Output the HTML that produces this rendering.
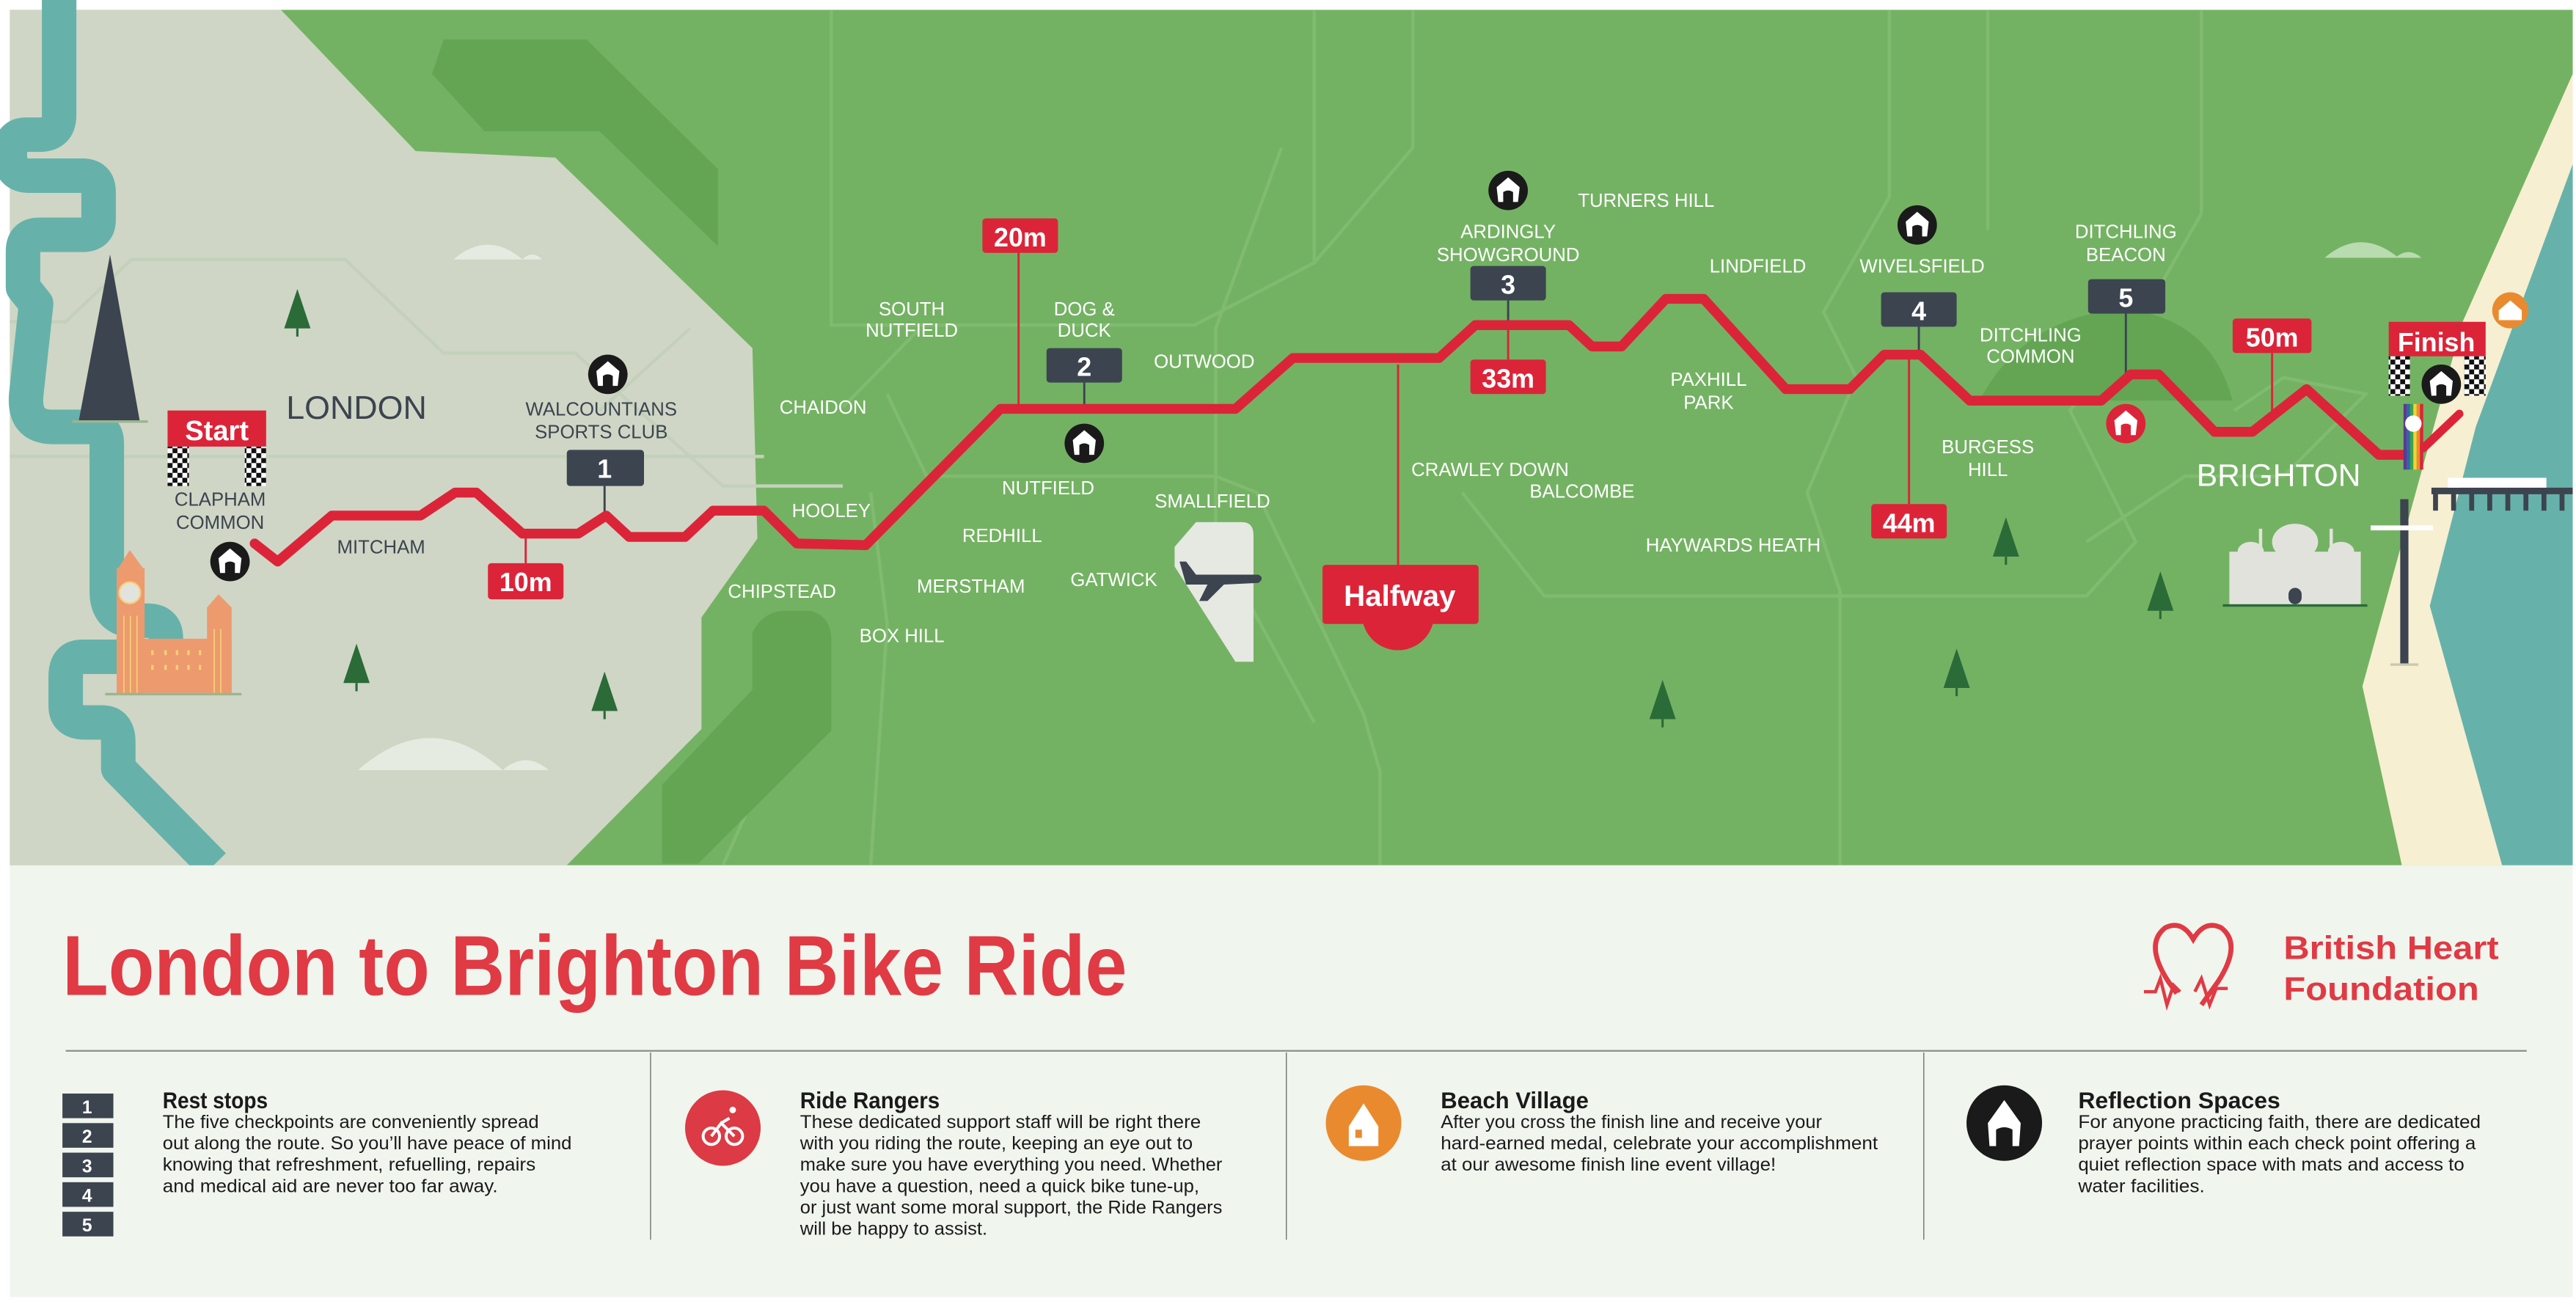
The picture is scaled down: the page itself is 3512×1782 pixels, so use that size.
<!DOCTYPE html>
<html><head><meta charset="utf-8"><style>
html,body{margin:0;padding:0;background:#fff;}
svg{display:block;}
</style></head><body>
<svg width="3512" height="1782" viewBox="0 0 1568 796" preserveAspectRatio="none" xmlns="http://www.w3.org/2000/svg" font-family="Liberation Sans, sans-serif">
<defs>
<g id="refl"><circle r="12" fill="#1a1a1a"/><path d="M-7,-2 L0,-8 L7,-2 L6,7 L3,7 L3,1 Q0,-1 -3,1 L-3,7 L-6,7 Z" fill="#fff"/></g>
<g id="reflr"><circle r="12" fill="#dc2439"/><path d="M-7,-2 L0,-8 L7,-2 L6,7 L3,7 L3,1 Q0,-1 -3,1 L-3,7 L-6,7 Z" fill="#fff"/></g>
<g id="tree"><polygon points="0,-18 8,6 -8,6" fill="#2a6b38"/><rect x="-0.7" y="6" width="1.4" height="5" fill="#2a6b38"/></g>
<pattern id="chk" width="6" height="6" patternUnits="userSpaceOnUse"><rect width="6" height="6" fill="#fff"/><rect width="3" height="3" fill="#111"/><rect x="3" y="3" width="3" height="3" fill="#111"/></pattern>
</defs>
<rect width="1568" height="796" fill="#fff"/>
<rect x="6" y="6" width="1560" height="521" fill="#74b263"/>
<g fill="none" stroke="#86bf76" stroke-width="2" opacity="0.7">
<path d="M506,6 V198 L560,198 H727 L800,160 V6"/>
<path d="M800,160 L860,90 L860,6"/>
<path d="M513,248 L560,200"/>
<path d="M540,240 L564,290 H740 L765,300 L830,435 L840,470 V527"/>
<path d="M780,90 L740,200 V330 L800,440"/>
<path d="M890,300 L940,363 H1270 L1300,330 L1260,250 L1300,200 L1340,130 L1340,6"/>
<path d="M1150,6 V120 L1110,190 L1130,230 L1100,300 L1120,360 V527"/>
<path d="M1360,250 L1390,230 L1440,240 L1390,290 H1330 L1270,330"/>
<path d="M1210,6 V140"/>
<path d="M488,420 L440,527"/>
<path d="M530,300 L540,380 L530,527"/>
</g>
<polygon points="6,6 171,6 253,92 338,96 458,212 461,328 427,376 427,444 345,527 6,527" fill="#cfd6c5"/>
<g fill="none" stroke="#c3d1bb" stroke-width="2">
<path d="M6,196 L40,196 L80,158 H210 L270,215 H350 L440,296 H513"/>
<path d="M6,278 H465"/>
<path d="M420,200 L365,250"/>
</g>
<polygon points="270,24 357,24 437,103 437,150 365,80 295,80 263,45" fill="#63a553"/>
<path d="M403,526 L403,478 L458,420 L458,385 Q465,372 478,372 L493,372 Q506,375 506,390 L506,445 L425,526 Z" fill="#63a553"/>
<path d="M1205,244 Q1230,195 1290,188 Q1345,192 1359,244 Z" fill="#63a553"/>
<g fill="#e6ebe2"><path d="M276,158 Q297,140 318,158 Z"/><path d="M318,158 Q324,152 330,158 Z"/>
<path d="M218,469 Q262,430 306,469 Z"/><path d="M306,469 Q320,457 334,469 Z"/></g>
<g fill="#b9dbb0"><path d="M1415,157 Q1437,138 1460,157 Z"/><path d="M1458,157 Q1466,150 1474,157 Z"/></g>
<path d="M36,0 L36,70 Q36,82 24,82 L16,82 Q6,82 6,94 Q6,107 18,107 L50,107 Q60,107 60,117 L60,134 Q60,143 50,143 L24,143 Q14,143 14,153 L14,175 L22,185 L16,240 Q14,260 32,260 L55,260 Q65,260 65,270 L65,360 Q65,378 83,378 L90,378 Q101,378 101,389 L101,392 Q101,400 90,400 L50,400 Q40,400 40,412 L40,430 Q40,440 52,440 L62,440 Q72,440 72,452 L72,468 L130,527" fill="none" stroke="#66b2aa" stroke-width="21" stroke-linejoin="round"/>
<polygon points="1566,45 1566,527 1462,527 1438,418 1499,196" fill="#f7efd2"/>
<polygon points="1566,100 1566,527 1523,527 1479,369 1507,260" fill="#66b2aa"/>
<use href="#tree" x="181" y="194"/><use href="#tree" x="217" y="410"/><use href="#tree" x="368" y="427"/>
<use href="#tree" x="1012" y="432"/><use href="#tree" x="1191" y="413"/><use href="#tree" x="1221" y="333"/><use href="#tree" x="1315" y="366"/>
<polygon points="67,155 85,256 48,256" fill="#3c4450"/><rect x="44" y="256" width="46" height="1.5" fill="#9bb58f"/>
<g fill="#ed9a6e"><rect x="71" y="346" width="17" height="77"/><polygon points="72,346 79,335 87,346"/><rect x="86" y="389" width="55" height="33"/><rect x="126" y="370" width="15" height="52"/><polygon points="126,370 133,362 141,370"/></g>
<circle cx="79" cy="361" r="6.5" fill="#e2e3dd" stroke="#f3cf75" stroke-width="1"/>
<g fill="#f3cf75"><rect x="92" y="396" width="1.5" height="3"/><rect x="100" y="396" width="1.5" height="3"/><rect x="107" y="396" width="1.5" height="3"/><rect x="114" y="396" width="1.5" height="3"/><rect x="121" y="396" width="1.5" height="3"/>
<rect x="92" y="405" width="1.5" height="3"/><rect x="100" y="405" width="1.5" height="3"/><rect x="107" y="405" width="1.5" height="3"/><rect x="114" y="405" width="1.5" height="3"/><rect x="121" y="405" width="1.5" height="3"/>
<rect x="75" y="375" width="0.8" height="47"/><rect x="79" y="375" width="0.8" height="47"/><rect x="83" y="375" width="0.8" height="47"/><rect x="130" y="383" width="0.8" height="39"/><rect x="134" y="383" width="0.8" height="39"/></g>
<rect x="64" y="422" width="83" height="1.5" fill="#9bb58f"/>
<path d="M728,318 H756 Q763,318 763,326 V403 L752,403 L715,345 L715,333 Z" fill="#e6e8e2"/>
<path d="M718,342 L722,342 L728,350 L766,350 Q770,352 766,355 L745,356 L735,366 L730,366 L735,356 L722,356 Z" fill="#3c4450"/>
<g fill="#e2e2dc"><rect x="1357" y="336" width="80" height="32"/><ellipse cx="1397" cy="330" rx="14" ry="11"/><ellipse cx="1370" cy="336" rx="8" ry="6"/><ellipse cx="1425" cy="336" rx="8" ry="6"/><rect x="1375" y="322" width="2" height="14"/><rect x="1418" y="322" width="2" height="14"/></g>
<rect x="1353" y="368" width="88" height="1.5" fill="#2a6b38"/><rect x="1393" y="358" width="8" height="10" rx="4" fill="#3c4450"/>
<rect x="1480" y="297" width="86" height="4" fill="#3c4450"/>
<g fill="#3c4450"><rect x="1481" y="300" width="3" height="11"/><rect x="1492" y="300" width="3" height="11"/><rect x="1503" y="300" width="3" height="11"/><rect x="1514" y="300" width="3" height="11"/><rect x="1525" y="300" width="3" height="11"/><rect x="1536" y="300" width="3" height="11"/><rect x="1547" y="300" width="3" height="11"/><rect x="1558" y="300" width="3" height="11"/></g>
<rect x="1490" y="291" width="60" height="6" fill="#fff"/>
<rect x="1461" y="304" width="5" height="101" fill="#3c4450"/><rect x="1443" y="320" width="38" height="3" fill="#fff"/><rect x="1455" y="404" width="17" height="1.5" fill="#c8c8b0"/>
<g stroke="#3c4450" stroke-width="1.3"><line x1="368" y1="296" x2="368" y2="313"/><line x1="660" y1="233" x2="660" y2="250"/><line x1="918" y1="183" x2="918" y2="202"/><line x1="1168" y1="199" x2="1168" y2="216"/><line x1="1294" y1="191" x2="1294" y2="228"/></g>
<g stroke="#dc2439" stroke-width="1.3"><line x1="320" y1="326" x2="320" y2="343"/><line x1="620" y1="153" x2="620" y2="250"/><line x1="918" y1="200" x2="918" y2="219"/><line x1="851" y1="222" x2="851" y2="345"/><line x1="1162" y1="218" x2="1162" y2="307"/><line x1="1383" y1="215" x2="1383" y2="252"/></g>
<path d="M155,331 L169,342 L202,314 L256,314 L277,300 L290,300 L318,325 L352,325 L369,314 L383,327 L417,327 L434,311 L465,311 L485,331 L527,332 L609,249 L752,249 L787,218 L876,218 L898,198 L955,198 L969,211 L987,211 L1014,182 L1037,182 L1087,237 L1126,237 L1147,216 L1169,216 L1199,244 L1279,244 L1297,228 L1314,228 L1348,263 L1371,263 L1404,237 L1448,277 L1466,277" fill="none" stroke="#dc2439" stroke-width="6" stroke-linejoin="round" stroke-linecap="round"/>
<path d="M1475,273 L1497,252" stroke="#dc2439" stroke-width="5" stroke-linecap="round"/>
<g><rect x="1463" y="246" width="2" height="40" fill="#5b3a90"/><rect x="1465" y="246" width="2" height="40" fill="#2f64b0"/><rect x="1467" y="246" width="2" height="40" fill="#3aa34a"/><rect x="1469" y="246" width="2" height="40" fill="#f3d13a"/><rect x="1471" y="246" width="2" height="40" fill="#ee8a2b"/><rect x="1473" y="246" width="2" height="40" fill="#dc2439"/></g>
<circle cx="1469" cy="258" r="5" fill="#fff"/>
<rect x="102" y="250" width="60" height="22" fill="#dc2439"/>
<text x="132" y="268" font-size="17" font-weight="bold" fill="#fff" text-anchor="middle">Start</text>
<rect x="102" y="272" width="13" height="24" fill="url(#chk)"/><rect x="149" y="272" width="13" height="24" fill="url(#chk)"/>
<rect x="1454" y="196" width="59" height="21" fill="#dc2439"/>
<text x="1483" y="214" font-size="16" font-weight="bold" fill="#fff" text-anchor="middle">Finish</text>
<rect x="1454" y="217" width="13" height="24" fill="url(#chk)"/><rect x="1500" y="217" width="13" height="24" fill="url(#chk)"/>
<use href="#refl" x="1486" y="234"/>
<circle cx="1528" cy="189" r="11" fill="#ea8a2e"/><path d="M1521,189 L1528,183 L1535,189 V195 H1521 Z" fill="#fff"/>
<use href="#refl" x="140" y="342"/><use href="#refl" x="370" y="228"/><use href="#refl" x="660" y="270"/><use href="#refl" x="918" y="116"/><use href="#refl" x="1167" y="137"/><use href="#reflr" x="1294" y="258"/>
<g fill="#3c4450"><rect x="345" y="274" width="47" height="22" rx="2"/><rect x="637" y="212" width="46" height="21" rx="2"/><rect x="895" y="162" width="46" height="21" rx="2"/><rect x="1145" y="178" width="46" height="21" rx="2"/><rect x="1271" y="170" width="47" height="21" rx="2"/></g>
<g font-size="16" font-weight="bold" fill="#fff" text-anchor="middle"><text x="368" y="291">1</text><text x="660" y="229">2</text><text x="918" y="179">3</text><text x="1168" y="195">4</text><text x="1294" y="187">5</text></g>
<g fill="#dc2439"><rect x="297" y="343" width="46" height="22" rx="2"/><rect x="598" y="133" width="46" height="21" rx="2"/><rect x="895" y="219" width="46" height="21" rx="2"/><rect x="1139" y="307" width="46" height="21" rx="2"/><rect x="1359" y="194" width="48" height="21" rx="2"/></g>
<g font-size="16" font-weight="bold" fill="#fff" text-anchor="middle"><text x="320" y="360">10m</text><text x="621" y="150">20m</text><text x="918" y="236">33m</text><text x="1162" y="324">44m</text><text x="1383" y="211">50m</text></g>
<circle cx="851" cy="374" r="22" fill="#dc2439"/><rect x="805" y="344" width="95" height="36" rx="2" fill="#dc2439"/>
<text x="852" y="369" font-size="18" font-weight="bold" fill="#fff" text-anchor="middle">Halfway</text>
<g fill="#3c4450" font-size="11.5" text-anchor="middle">
<text x="134" y="308">CLAPHAM</text><text x="134" y="322">COMMON</text>
<text x="366" y="253">WALCOUNTIANS</text><text x="366" y="267">SPORTS CLUB</text>
<text x="232" y="337">MITCHAM</text>
<text x="217" y="255" font-size="20">LONDON</text>
</g>
<g fill="#fff" font-size="11.5" text-anchor="middle">
<text x="501" y="252">CHAIDON</text><text x="506" y="315">HOOLEY</text><text x="476" y="364">CHIPSTEAD</text>
<text x="555" y="192">SOUTH</text><text x="555" y="205">NUTFIELD</text>
<text x="660" y="192">DOG &amp;</text><text x="660" y="205">DUCK</text>
<text x="733" y="224">OUTWOOD</text><text x="638" y="301">NUTFIELD</text><text x="610" y="330">REDHILL</text>
<text x="591" y="361">MERSTHAM</text><text x="549" y="391">BOX HILL</text><text x="738" y="309">SMALLFIELD</text>
<text x="678" y="357">GATWICK</text>
<text x="907" y="290">CRAWLEY DOWN</text><text x="963" y="303">BALCOMBE</text><text x="1055" y="336">HAYWARDS HEATH</text>
<text x="918" y="145">ARDINGLY</text><text x="918" y="159">SHOWGROUND</text>
<text x="1002" y="126">TURNERS HILL</text><text x="1070" y="166">LINDFIELD</text>
<text x="1040" y="235">PAXHILL</text><text x="1040" y="249">PARK</text>
<text x="1170" y="166">WIVELSFIELD</text>
<text x="1210" y="276">BURGESS</text><text x="1210" y="290">HILL</text>
<text x="1294" y="145">DITCHLING</text><text x="1294" y="159">BEACON</text>
<text x="1236" y="208">DITCHLING</text><text x="1236" y="221">COMMON</text>
<text x="1387" y="296" font-size="19">BRIGHTON</text>
</g>
<rect x="6" y="527" width="1560" height="263" fill="#f0f5ee"/>
<text x="38" y="606" font-size="52" font-weight="bold" fill="#e03a44" textLength="648" lengthAdjust="spacingAndGlyphs">London to Brighton Bike Ride</text>
<path d="M1325,605 L1320,598 Q1305,575 1318,565 Q1328,560 1335,572 Q1342,560 1352,565 Q1365,575 1350,598 L1340,612" fill="none" stroke="#e03a44" stroke-width="3"/>
<path d="M1305,604 H1312 L1315,596 L1319,612 L1323,600 L1327,604 M1336,604 L1340,596 L1345,612 L1349,602 H1356" fill="none" stroke="#e03a44" stroke-width="2"/>
<text x="1390" y="584" font-size="20" font-weight="bold" fill="#e03a44" textLength="131" lengthAdjust="spacingAndGlyphs">British Heart</text>
<text x="1390" y="609" font-size="20" font-weight="bold" fill="#e03a44" textLength="119" lengthAdjust="spacingAndGlyphs">Foundation</text>
<line x1="40" y1="640" x2="1538" y2="640" stroke="#8a8f8a" stroke-width="1"/>
<g stroke="#6a6f6a" stroke-width="0.6"><line x1="396" y1="641" x2="396" y2="755"/><line x1="783" y1="641" x2="783" y2="755"/><line x1="1171" y1="641" x2="1171" y2="755"/></g>
<g fill="#3c4450"><rect x="38" y="666" width="31" height="15"/><rect x="38" y="684" width="31" height="15"/><rect x="38" y="702" width="31" height="15"/><rect x="38" y="720" width="31" height="15"/><rect x="38" y="738" width="31" height="15"/></g>
<g fill="#fff" font-size="11" font-weight="bold" text-anchor="middle"><text x="53" y="678">1</text><text x="53" y="696">2</text><text x="53" y="714">3</text><text x="53" y="732">4</text><text x="53" y="750">5</text></g>
<circle cx="440" cy="687" r="23" fill="#dc3a44"/>
<g fill="none" stroke="#fff" stroke-width="1.8"><circle cx="433" cy="692" r="5"/><circle cx="447" cy="692" r="5"/><path d="M433,692 L439,684 L447,692 M439,684 L444,681"/></g><circle cx="446" cy="676" r="2" fill="#fff"/>
<circle cx="830" cy="684" r="23" fill="#ea8a2e"/><path d="M821,686 L830,672 L839,686 V698 H821 Z" fill="#fff"/><rect x="825" y="688" width="4" height="5" fill="#ea8a2e"/>
<circle cx="1220" cy="684" r="23" fill="#1a1a1a"/><path d="M1210,684 L1220,670 L1230,684 L1229,698 L1225,698 L1225,688 Q1220,685 1215,688 L1215,698 L1211,698 Z" fill="#fff"/>
<g fill="#1a1a1a" font-weight="bold" font-size="14">
<text x="99" y="675" textLength="64" lengthAdjust="spacingAndGlyphs">Rest stops</text>
<text x="487" y="675" textLength="85" lengthAdjust="spacingAndGlyphs">Ride Rangers</text>
<text x="877" y="675" textLength="90" lengthAdjust="spacingAndGlyphs">Beach Village</text>
<text x="1265" y="675" textLength="123" lengthAdjust="spacingAndGlyphs">Reflection Spaces</text>
</g>
<g fill="#1a1a1a" font-size="11">
<text x="99" y="687" textLength="229" lengthAdjust="spacingAndGlyphs">The five checkpoints are conveniently spread</text>
<text x="99" y="700" textLength="249" lengthAdjust="spacingAndGlyphs">out along the route. So you’ll have peace of mind</text>
<text x="99" y="713" textLength="227" lengthAdjust="spacingAndGlyphs">knowing that refreshment, refuelling, repairs</text>
<text x="99" y="726" textLength="204" lengthAdjust="spacingAndGlyphs">and medical aid are never too far away.</text>
<text x="487" y="687" textLength="244" lengthAdjust="spacingAndGlyphs">These dedicated support staff will be right there</text>
<text x="487" y="700" textLength="239" lengthAdjust="spacingAndGlyphs">with you riding the route, keeping an eye out to</text>
<text x="487" y="713" textLength="257" lengthAdjust="spacingAndGlyphs">make sure you have everything you need. Whether</text>
<text x="487" y="726" textLength="243" lengthAdjust="spacingAndGlyphs">you have a question, need a quick bike tune-up,</text>
<text x="487" y="739" textLength="257" lengthAdjust="spacingAndGlyphs">or just want some moral support, the Ride Rangers</text>
<text x="487" y="752" textLength="114" lengthAdjust="spacingAndGlyphs">will be happy to assist.</text>
<text x="877" y="687" textLength="232" lengthAdjust="spacingAndGlyphs">After you cross the finish line and receive your</text>
<text x="877" y="700" textLength="266" lengthAdjust="spacingAndGlyphs">hard-earned medal, celebrate your accomplishment</text>
<text x="877" y="713" textLength="204" lengthAdjust="spacingAndGlyphs">at our awesome finish line event village!</text>
<text x="1265" y="687" textLength="245" lengthAdjust="spacingAndGlyphs">For anyone practicing faith, there are dedicated</text>
<text x="1265" y="700" textLength="242" lengthAdjust="spacingAndGlyphs">prayer points within each check point offering a</text>
<text x="1265" y="713" textLength="235" lengthAdjust="spacingAndGlyphs">quiet reflection space with mats and access to</text>
<text x="1265" y="726" textLength="77" lengthAdjust="spacingAndGlyphs">water facilities.</text>
</g>
</svg>
</body></html>
